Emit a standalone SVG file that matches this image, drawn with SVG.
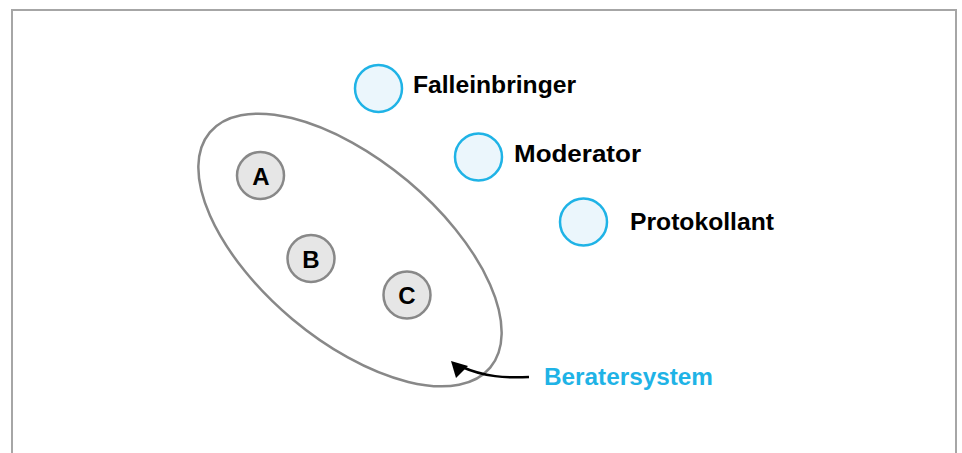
<svg xmlns="http://www.w3.org/2000/svg" width="962" height="453" viewBox="0 0 962 453">
<defs>
<style>
.role{fill:#ebf6fc;stroke:#1fb3e6;stroke-width:2.5}
.member{fill:#e6e6e6;stroke:#888;stroke-width:2.5}
.lbl{font-family:"Liberation Sans",Arial,sans-serif;font-weight:bold;font-size:24px;fill:#000}
.ctr{text-anchor:middle}
</style>
</defs>
<rect x="0" y="0" width="962" height="453" fill="#fff"/>
<path d="M12 460 V10 H956 V460" fill="none" stroke="#a6a6a6" stroke-width="2"/>
<g id="beratersystem">
<ellipse cx="350" cy="250" rx="183" ry="90" transform="rotate(40 350 250)" fill="none" stroke="#888" stroke-width="2.5"/>
</g>
<g id="nodeA"><circle class="member" cx="260.5" cy="175.5" r="23.5"/><text class="lbl ctr" x="261" y="184.5" font-size="23">A</text></g>
<g id="nodeB"><circle class="member" cx="311" cy="258.5" r="23.5"/><text class="lbl ctr" x="311" y="267.5" font-size="23">B</text></g>
<g id="nodeC"><circle class="member" cx="407" cy="295" r="23.5"/><text class="lbl ctr" x="407" y="304" font-size="23">C</text></g>
<g id="falleinbringer"><circle class="role" cx="378.5" cy="88.5" r="23.5"/><text class="lbl" x="413" y="93" textLength="163" lengthAdjust="spacingAndGlyphs">Falleinbringer</text></g>
<g id="moderator"><circle class="role" cx="478.5" cy="157" r="23.5"/><text class="lbl" x="514" y="162" textLength="127" lengthAdjust="spacingAndGlyphs">Moderator</text></g>
<g id="protokollant"><circle class="role" cx="583.5" cy="222" r="23.5"/><text class="lbl" x="630" y="230" textLength="144" lengthAdjust="spacingAndGlyphs">Protokollant</text></g>
<g id="connectors">
<path d="M529 377 C505 378 485 377 462 367" fill="none" stroke="#000" stroke-width="2.5"/>
<polygon points="451,361 456,378 468,366" fill="#000"/>
</g>
<text class="lbl" x="544" y="385" style="fill:#1fb3e6" textLength="169" lengthAdjust="spacingAndGlyphs">Beratersystem</text>
</svg>
